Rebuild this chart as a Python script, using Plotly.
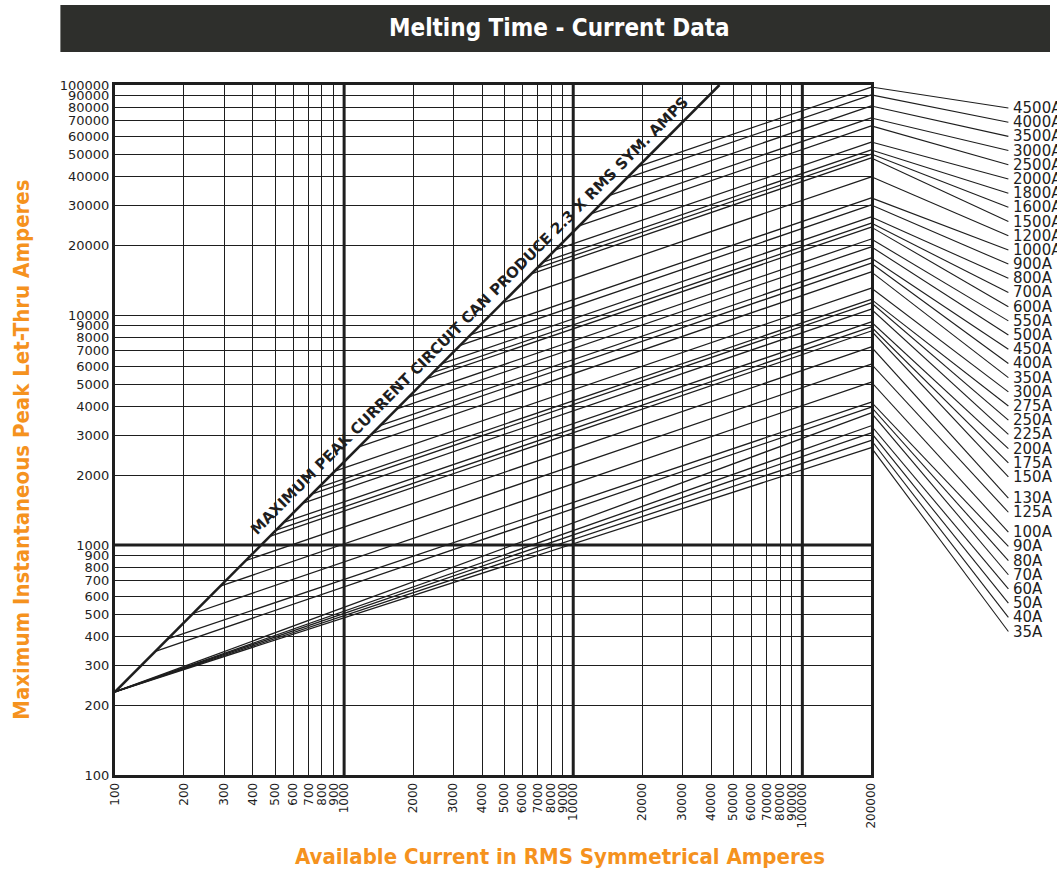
import math
import plotly.graph_objects as go

# ---------------- data ----------------
ratings = ["4500A", "4000A", "3500A", "3000A", "2500A", "2000A", "1800A", "1600A",
           "1500A", "1200A", "1000A", "900A", "800A", "700A", "600A", "550A",
           "500A", "450A", "400A", "350A", "300A", "275A", "250A", "225A",
           "200A", "175A", "150A", "130A", "125A", "100A", "90A", "80A",
           "70A", "60A", "50A", "40A", "35A"]

# available RMS current where each let-thru line leaves the 2.3x maximum-peak line
start_rms = [19200, 17100, 14400, 12000, 10600, 8340, 7380, 6950,
             6560, 4910, 3570, 3210, 2670, 2440, 2300, 1910,
             1700, 1440, 1330, 1160, 910, 773, 726, 662,
             545, 505, 474, 372, 288, 219, 170, 150,
             100, 100, 100, 100, 100]

# peak let-thru current at 200,000 A RMS
end_peak = [98000, 90600, 81100, 71900, 66400, 56500, 52200, 50100,
            48200, 39900, 32300, 30100, 26700, 25100, 24100, 21400,
            19800, 17700, 16800, 15400, 13100, 11700, 11300, 10600,
            9330, 8870, 8520, 7260, 6120, 5110, 4180, 3980,
            3750, 3300, 3070, 2850, 2650]

PEAK_FACTOR = 2.3
X_MIN, X_MAX = 100, 200000
Y_MIN, Y_MAX = 100, 100000

x_ticks = [100, 200, 300, 400, 500, 600, 700, 800, 900, 1000,
           2000, 3000, 4000, 5000, 6000, 7000, 8000, 9000, 10000,
           20000, 30000, 40000, 50000, 60000, 70000, 80000, 90000, 100000, 200000]
y_ticks = [100, 200, 300, 400, 500, 600, 700, 800, 900, 1000,
           2000, 3000, 4000, 5000, 6000, 7000, 8000, 9000, 10000,
           20000, 30000, 40000, 50000, 60000, 70000, 80000, 90000, 100000]
x_heavy = [1000, 10000, 100000]
y_heavy = [1000]

# ---------------- styling ----------------
INK = "#1e1e1e"
ORANGE = "#F5921E"
BAR = "#2e2f2c"
TECH = "DejaVu Sans, Liberation Sans, sans-serif"
COND = "Liberation Sans Narrow, DejaVu Sans Condensed, Roboto, sans-serif"

fig = go.Figure()

# heavy grid lines
for xv in x_heavy:
    fig.add_trace(go.Scatter(x=[xv, xv], y=[Y_MIN, Y_MAX], mode="lines",
                             line=dict(color=INK, width=3), hoverinfo="skip"))
for yv in y_heavy:
    fig.add_trace(go.Scatter(x=[X_MIN, X_MAX], y=[yv, yv], mode="lines",
                             line=dict(color=INK, width=3), hoverinfo="skip"))

# let-thru lines
for r, s, e in zip(ratings, start_rms, end_peak):
    fig.add_trace(go.Scatter(x=[s, X_MAX], y=[PEAK_FACTOR * s, e], mode="lines",
                             line=dict(color=INK, width=1.3), name=r))

# maximum peak line
fig.add_trace(go.Scatter(x=[X_MIN, Y_MAX / PEAK_FACTOR],
                         y=[PEAK_FACTOR * X_MIN, Y_MAX], mode="lines",
                         line=dict(color=INK, width=2.6), name="max"))

# leader lines to the labels (second, hidden subplot at the right)
row_top, row_step = 4.90, 0.0617
gaps = {27: 0.03, 29: 0.025}
row_log = []
cur = row_top
for i in range(len(ratings)):
    if i > 0:
        cur -= row_step + gaps.get(i, 0)
    row_log.append(cur)

LEAD_END = 0.767
for r, e, rl in zip(ratings, end_peak, row_log):
    fig.add_trace(go.Scatter(x=[0, LEAD_END], y=[e, 10 ** rl], mode="lines",
                             xaxis="x2", yaxis="y2",
                             line=dict(color=INK, width=1.1), hoverinfo="skip"))
    fig.add_annotation(x=LEAD_END + 0.012, y=rl, xref="x2", yref="y2",
                       text=r, showarrow=False, xanchor="left", yanchor="middle",
                       font=dict(family=TECH, size=15, color=INK))

# annotation along the maximum peak line
fig.add_annotation(x=0.3789, y=0.6652, xref="paper", yref="paper",
                   text="<b>MAXIMUM PEAK CURRENT CIRCUIT CAN PRODUCE 2.3 X RMS SYM. AMPS</b>",
                   showarrow=False, textangle=-45,
                   font=dict(family=TECH, size=15, color=INK))

# title bar
fig.add_shape(type="rect", xref="paper", yref="paper",
              x0=-0.0584, x1=1.0, y0=1.0478, y1=1.1159,
              fillcolor=BAR, line=dict(width=0), layer="below")
fig.add_annotation(x=0.4756, y=1.0826, xref="paper", yref="paper",
                   text="<b>Melting Time - Current Data</b>", showarrow=False,
                   xanchor="center", yanchor="middle",
                   font=dict(family=COND, size=24, color="white"))

# axis titles
fig.add_annotation(x=0.4756, y=-0.1188, xref="paper", yref="paper",
                   text="<b>Available Current in RMS Symmetrical Amperes</b>",
                   showarrow=False, xanchor="center", yanchor="middle",
                   font=dict(family=COND, size=22, color=ORANGE))
fig.add_annotation(x=-0.1008, y=0.471, xref="paper", yref="paper",
                   text="<b>Maximum Instantaneous Peak Let-Thru Amperes</b>",
                   showarrow=False, textangle=-90, xanchor="center", yanchor="middle",
                   font=dict(family=COND, size=22, color=ORANGE))

fig.update_layout(
    width=1057, height=871,
    margin=dict(l=115, r=0, t=85, b=96),
    paper_bgcolor="white", plot_bgcolor="white",
    showlegend=False,
    xaxis=dict(type="log", range=[math.log10(X_MIN), math.log10(X_MAX)],
               domain=[0, 0.8089], anchor="y",
               tickmode="array", tickvals=x_ticks, ticktext=[str(v) for v in x_ticks],
               tickangle=-90, tickfont=dict(family=TECH, size=12, color=INK),
               showgrid=True, gridcolor=INK, gridwidth=1,
               showline=True, linecolor=INK, linewidth=3, mirror=True,
               ticks="", zeroline=False),
    yaxis=dict(type="log", range=[math.log10(Y_MIN), math.log10(Y_MAX)],
               domain=[0, 1], anchor="x",
               tickmode="array", tickvals=y_ticks, ticktext=[str(v) for v in y_ticks],
               tickfont=dict(family=TECH, size=13, color=INK),
               showgrid=True, gridcolor=INK, gridwidth=1,
               showline=True, linecolor=INK, linewidth=3, mirror=True,
               ticks="", zeroline=False),
    xaxis2=dict(domain=[0.8089, 1.0], range=[0, 1], anchor="y2", visible=False),
    yaxis2=dict(type="log", range=[math.log10(Y_MIN), math.log10(Y_MAX)],
                domain=[0, 1], anchor="x2", visible=False),
)

fig.write_html("out.html", config={"displayModeBar": False})
